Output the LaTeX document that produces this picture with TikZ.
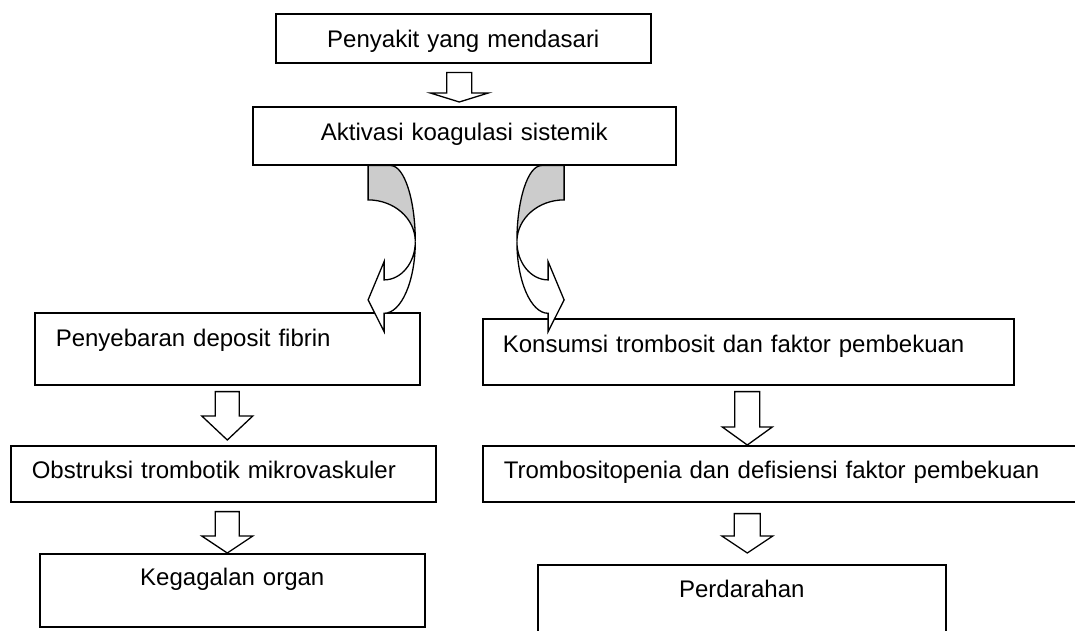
\documentclass[tikz,border=0pt]{standalone}
\usepackage{fontspec}
\setmainfont{Liberation Sans}
\usepackage{xcolor}
\usepackage{tikz}
\usetikzlibrary{calc}

\definecolor{backgray}{RGB}{204,204,204}
\newcommand{\boxfont}{\fontsize{24}{28}\selectfont}

% #1 shaft half width, #2 head half width, #3 head length, #4 shaft top, #5 tip
\newcommand{\hollowarrow}[5]{%
  \draw[blockline] let \p1=(#4), \p2=(#5) in
    (\x2-#1,\y1) -- (\x2+#1,\y1) -- (\x2+#1,\y2+#3) -- (\x2+#2,\y2+#3)
    -- (\x2,\y2) -- (\x2-#2,\y2+#3) -- (\x2-#1,\y2+#3) -- cycle;
}

\tikzset{
  box/.style={draw, line width=1.6pt, inner ysep=0pt, font=\boxfont, anchor=north west},
  blockline/.style={draw, line width=1.3pt, fill=white, line join=miter},
  bentline/.style={draw, line width=1.3pt, line join=miter},
  bentarrow/.pic={
    \draw[bentline, fill=backgray] (0,0) -- (22.7,0) .. controls (36.2,0) and (47.2,34) .. (47.2,76)
      .. controls (47.2,53) and (26.1,34.3) .. (0,34.3) -- cycle;
    \draw[bentline, fill=white] (47.2,76) .. controls (47.2,115.6) and (33.2,147.7) .. (16,147.7)
      -- (16,166) -- (0,134.3) -- (16,96) -- (16,114.3)
      .. controls (33.2,114.3) and (47.2,97.2) .. (47.2,76) -- cycle;
  }
}

\begin{document}
\begin{tikzpicture}[x=1pt,y=-1pt]
    \clip (0,0) rectangle (1075,631);

    \node[box, inner xsep=0pt, text width=375pt, align=center, text height=34pt, text depth=15pt]
        (penyakit) at (275,13) {Penyakit yang mendasari};
    \node[box, inner xsep=0pt, text width=423pt, align=center, text height=34pt, text depth=24pt]
        (aktivasi) at (252,106) {Aktivasi koagulasi sistemik};

    \node[box, inner xsep=21pt, text width=343pt, align=left, text height=34pt, text depth=38pt]
        (fibrin) at (34,312) {Penyebaran deposit fibrin};
    \node[box, inner xsep=20pt, text width=491pt, align=left, text height=34pt, text depth=32pt]
        (konsumsi) at (482,318) {Konsumsi trombosit dan faktor pembekuan};

    \node[box, inner xsep=21pt, text width=383pt, align=left, text height=33pt, text depth=23pt]
        (obstruksi) at (10,445) {Obstruksi trombotik mikrovaskuler};
    \node[box, inner xsep=21pt, text width=561pt, align=left, text height=33pt, text depth=23pt]
        (trombosit) at (482,445) {Trombositopenia dan defisiensi faktor pembekuan};

    \node[box, inner xsep=0pt, text width=385pt, align=center, text height=32pt, text depth=41pt]
        (organ) at (39,553) {Kegagalan organ};
    \node[box, inner xsep=0pt, text width=408pt, align=center, text height=33pt, text depth=43pt]
        (perdarahan) at (537,564) {Perdarahan};

    \hollowarrow{12.5pt}{29pt}{9pt}{$(penyakit.south)+(0,9)$}{$(aktivasi.north)+(-5,-4)$}

    \pic at ($(aktivasi.south)+(-96.2,0)$) {bentarrow};
    \pic[xscale=-1] at ($(aktivasi.south)+(99.8,0)$) {bentarrow};

    \hollowarrow{12pt}{25.5pt}{24pt}{$(fibrin.south)+(0,6)$}{$(fibrin.south |- obstruksi.north)+(0,-5)$}
    \hollowarrow{12pt}{25.5pt}{17pt}{$(obstruksi.south)+(4,9)$}{fibrin.south |- organ.north}
    \hollowarrow{12.5pt}{25pt}{18pt}{$(konsumsi.south)+(-1,6)$}{$(konsumsi.south |- trombosit.north)+(-1,0)$}
    \hollowarrow{13pt}{25.5pt}{17pt}{$(trombosit.south)+(0,11)$}{$(konsumsi.south |- perdarahan.north)+(-1,-11)$}
\end{tikzpicture}
\end{document}
